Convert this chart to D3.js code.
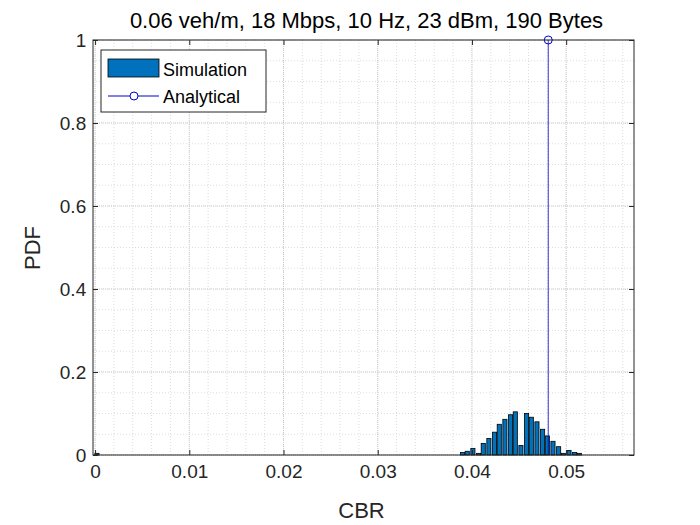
<!DOCTYPE html><html><head><meta charset="utf-8"><script src="https://d3js.org/d3.v7.min.js"></script>
<style>body{margin:0;background:#fff}text{font-family:Arial,"Liberation Sans",sans-serif}</style></head><body><svg id="c" width="700" height="525"></svg><script>
const binCenters=[0.0002,0.0390,0.0395,0.0401,0.0407,0.0412,0.0418,0.0424,0.0429,0.0435,0.0441,0.0446,0.0452,0.0458,0.0463,0.0469,0.0475,0.0480,0.0486,0.0492,0.0497,0.0503,0.0509,0.0514];
const pdfValues=[0.004,0.006,0.009,0.016,0.004,0.028,0.040,0.055,0.074,0.086,0.097,0.104,0.023,0.100,0.091,0.080,0.062,0.046,0.033,0.020,0.004,0.011,0.006,0.004];
const barWidth=0.00044;
const analyticalX=0.0481, analyticalY=1;
const xTicks=[0,0.01,0.02,0.03,0.04,0.05];
const yTicks=[0,0.2,0.4,0.6,0.8,1];
const svg=d3.select("#c");
const L=93,R=634,T=40,B=455;
const x=d3.scaleLinear().domain([-0.00022,0.0572]).range([L,R]);
const y=d3.scaleLinear().domain([0,1]).range([B,T]);
const g=svg.append("g");
const xm=d3.range(0,0.0572,0.002), ym=d3.range(0,1.001,0.05);
g.selectAll(".xm").data(xm).join("line").attr("x1",d=>x(d)).attr("x2",d=>x(d)).attr("y1",T).attr("y2",B).attr("stroke","#ddd").attr("stroke-dasharray","1,2");
g.selectAll(".ym").data(ym).join("line").attr("y1",d=>y(d)).attr("y2",d=>y(d)).attr("x1",L).attr("x2",R).attr("stroke","#ddd").attr("stroke-dasharray","1,2");
g.selectAll(".xg").data(xTicks).join("line").attr("x1",d=>x(d)).attr("x2",d=>x(d)).attr("y1",T).attr("y2",B).attr("stroke","#ccc").attr("stroke-dasharray","1,1");
g.selectAll(".yg").data(yTicks).join("line").attr("y1",d=>y(d)).attr("y2",d=>y(d)).attr("x1",L).attr("x2",R).attr("stroke","#ccc").attr("stroke-dasharray","1,1");
svg.selectAll(".bar").data(binCenters).join("rect")
 .attr("x",d=>x(d-barWidth/2)).attr("width",d=>x(d+barWidth/2)-x(d-barWidth/2))
 .attr("y",(d,i)=>y(pdfValues[i])).attr("height",(d,i)=>B-y(pdfValues[i]))
 .attr("fill","#0072BD").attr("stroke","#000").attr("stroke-width",0.8);
svg.append("line").attr("x1",x(analyticalX)).attr("x2",x(analyticalX)).attr("y1",y(0)).attr("y2",y(analyticalY)).attr("stroke","#0000cc").attr("stroke-width",0.8);
svg.append("circle").attr("cx",x(analyticalX)).attr("cy",y(analyticalY)).attr("r",4).attr("fill","none").attr("stroke","#0000cc");
svg.append("rect").attr("x",L).attr("y",T).attr("width",R-L).attr("height",B-T).attr("fill","none").attr("stroke","#262626");
const ax=svg.append("g").attr("transform",`translate(0,${B})`).call(d3.axisBottom(x).tickValues(xTicks).tickSize(-5).tickFormat(d=>d===0?"0":d3.format(".2f")(d)));
const ay=svg.append("g").attr("transform",`translate(${L},0)`).call(d3.axisLeft(y).tickValues(yTicks).tickSize(-5).tickFormat(d=>d===0||d===1?d:d3.format(".1f")(d)));
svg.append("g").attr("transform",`translate(0,${T})`).call(d3.axisTop(x).tickValues(xTicks).tickSize(-5).tickFormat(""));
svg.append("g").attr("transform",`translate(${R},0)`).call(d3.axisRight(y).tickValues(yTicks).tickSize(-5).tickFormat(""));
svg.selectAll(".domain").remove();
svg.selectAll(".tick line").attr("stroke","#262626");
ax.selectAll("text").attr("font-size",19).attr("fill","#262626").attr("dy","1.05em");
ay.selectAll("text").attr("font-size",19).attr("fill","#262626").attr("dx","-0.2em");
svg.append("text").attr("x",(L+R)/2+3).attr("y",28).attr("text-anchor","middle").attr("font-size",22).attr("fill","#000").text("0.06 veh/m, 18 Mbps, 10 Hz, 23 dBm, 190 Bytes");
svg.append("text").attr("x",(L+R)/2-2).attr("y",518).attr("text-anchor","middle").attr("font-size",22).attr("fill","#262626").text("CBR");
svg.append("text").attr("transform","translate(40,248) rotate(-90)").attr("text-anchor","middle").attr("font-size",22).attr("fill","#262626").text("PDF");
const lg=svg.append("g").attr("transform","translate(101,50)");
lg.append("rect").attr("width",165).attr("height",62).attr("fill","#fff").attr("stroke","#262626");
lg.append("rect").attr("x",7).attr("y",9).attr("width",51).attr("height",18).attr("fill","#0072BD").attr("stroke","#000").attr("stroke-width",0.8);
lg.append("text").attr("x",62).attr("y",26).attr("font-size",18).text("Simulation");
lg.append("line").attr("x1",7).attr("x2",58).attr("y1",46).attr("y2",46).attr("stroke","#0000cc");
lg.append("circle").attr("cx",33).attr("cy",46).attr("r",4).attr("fill","#fff").attr("stroke","#0000cc");
lg.append("text").attr("x",62).attr("y",53).attr("font-size",18).text("Analytical");
</script></body></html>
